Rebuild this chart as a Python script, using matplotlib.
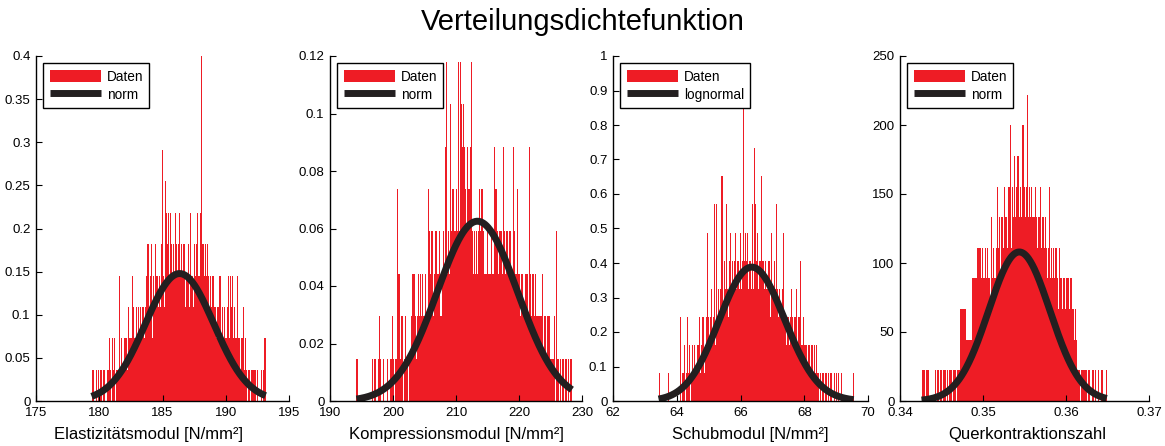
import matplotlib
matplotlib.use('Agg')
import matplotlib.pyplot as plt
import matplotlib.ticker as mticker
import numpy as np

plt.rcParams['font.family'] = ['Liberation Sans', 'DejaVu Sans']

RED = '#ee1c25'
BLACK = '#231f20'

title = 'Verteilungsdichtefunktion'
xlabels = ['Elastizitätsmodul [N/mm²]', 'Kompressionsmodul [N/mm²]',
           'Schubmodul [N/mm²]', 'Querkontraktionszahl']
fitNames = ['norm', 'norm', 'lognormal', 'norm']

# histogram: counts per bin (hex digits), data range, height of one count
countsE = ("1010010110 1101101011 2102112011 1241211221 2132224232 "
           "2323323233 2334553452 3435443343 5843766564 6547546545 "
           "4645455354 4536449354 564466b554 5645434343 4332334342 "
           "3232323424 3422322422 3122312210 1101101110 1001010122")
countsK = ("1000000000 0000101100 1210010010 0112101153 1220121101 "
           "1233212323 2322325434 4234433423 4368343745 5454848767 "
           "6546568434 3434545433 3433343365 4344436434 4343364335 "
           "3323323332 6323323222 2231221222 1112041101 0110101011")
countsG = ("1000000000 1000000000 0030112013 1201212112 2313233123 "
           "6323423727 3434883547 4356454564 5546545c56 5645547497 "
           "5645585545 4455364454 7434343463 3233234323 3423352232 "
           "2212212212 1211011011 0110101100 1010100100 0000000001")
countsNu = ("1111011100 0000110110 1101110110 1110111011 1133333322 "
            "2222244444 5555454455 4544364544 5475646657 6657679576 "
            "8678867679 9767a67676 6567656675 6656544574 5454554345 "
            "4434434443 4433323211 1011101110 1100110110 0100110001")
countStrings = [countsE, countsK, countsG, countsNu]
dataMin = [179.4, 194.2, 63.43, 0.3426]
dataMax = [193.15, 228.4, 69.55, 0.3649]
countUnit = [0.03636, 0.01475, 0.0814, 22.2]

# fitted distributions (mean, standard deviation)
fitMean = [186.35, 213.4, 66.37, 0.35437]
fitStd = [2.70, 6.38, 1.028, 0.003694]

# axes
xLims = [(175, 195), (190, 230), (62, 70), (0.34, 0.37)]
xSteps = [5, 10, 2, 0.01]
yLims = [(0, 0.4), (0, 0.12), (0, 1.0), (0, 250)]
ySteps = [0.05, 0.02, 0.1, 50]
axLeft = [36, 330, 613, 900]
axRight = [289, 582, 868, 1149]
labelPos = [0.445, 0.5, 0.537, 0.51]


def parseCounts(s):
    return np.array([int(c, 16) for c in s if c != ' '])


def fitCurve(i, x):
    m, s = fitMean[i], fitStd[i]
    if fitNames[i] == 'lognormal':
        sl = s / m
        ml = np.log(m)
        return np.exp(-(np.log(x) - ml)**2 / (2*sl**2)) / (x*sl*np.sqrt(2*np.pi))
    return np.exp(-(x - m)**2 / (2*s**2)) / (s*np.sqrt(2*np.pi))


fig = plt.figure(figsize=(11.65, 4.46), dpi=100)
W, H = 1165.0, 446.0
bottom = 1 - 401/H
top = 1 - 56/H

for i in range(4):
    ax = fig.add_axes([axLeft[i]/W, bottom, (axRight[i]-axLeft[i])/W, top-bottom])

    counts = parseCounts(countStrings[i])
    edges = np.linspace(dataMin[i], dataMax[i], len(counts)+1)
    centers = (edges[:-1] + edges[1:]) / 2
    w = edges[1] - edges[0]
    bars = ax.bar(centers, counts*countUnit[i], width=w, color=RED, linewidth=0)

    xs = np.linspace(dataMin[i], dataMax[i], 400)
    line, = ax.plot(xs, fitCurve(i, xs), color=BLACK, lw=5, solid_capstyle='butt')

    ax.set_xlim(*xLims[i])
    ax.set_ylim(*yLims[i])
    ax.xaxis.set_major_locator(mticker.MultipleLocator(xSteps[i]))
    ax.yaxis.set_major_locator(mticker.MultipleLocator(ySteps[i]))
    ax.xaxis.set_major_formatter(mticker.FormatStrFormatter('%g'))
    ax.yaxis.set_major_formatter(mticker.FormatStrFormatter('%g'))
    for sp in ['top', 'right']:
        ax.spines[sp].set_visible(False)
    for sp in ['left', 'bottom']:
        ax.spines[sp].set_linewidth(1.0)
    ax.tick_params(direction='in', length=4, width=0.8, labelsize=9.5, pad=4)
    ax.set_xlabel(xlabels[i], fontsize=12, labelpad=3)
    ax.xaxis.set_label_coords(labelPos[i], -0.075)

    leg = ax.legend([bars, line], ['Daten', fitNames[i]], loc='upper left',
                    fancybox=False, edgecolor='black', framealpha=1, fontsize=9.8,
                    handlelength=3.8, handleheight=1.05, handletextpad=0.4,
                    labelspacing=0.3, borderpad=0.45, borderaxespad=0.55)
    leg.get_frame().set_linewidth(1.0)

fig.text(0.5, 1 - 22/H, title, ha='center', va='center', fontsize=21)

fig.savefig('out.png', dpi=100)
